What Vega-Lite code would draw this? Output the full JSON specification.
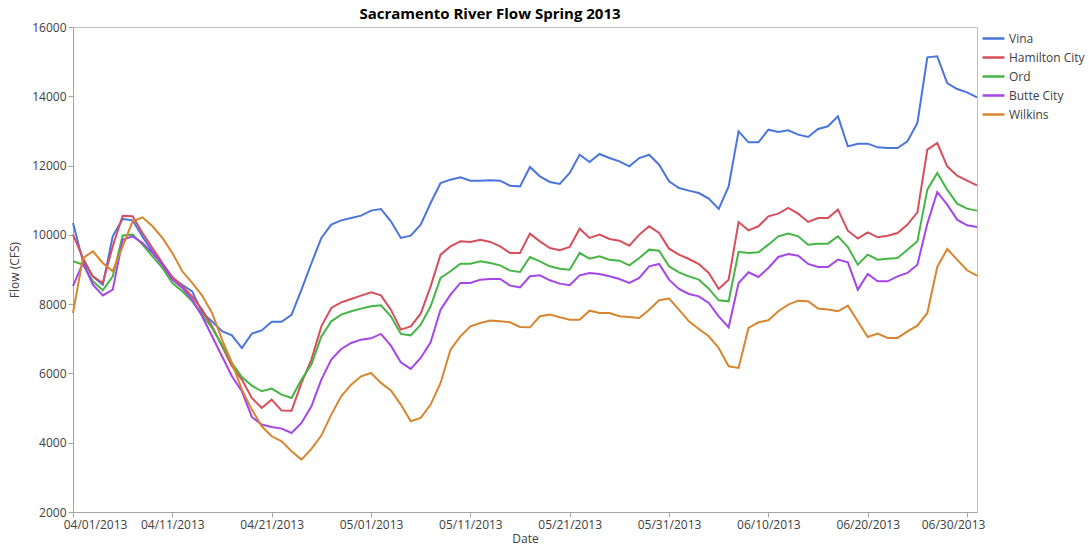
{
  "$schema": "https://vega.github.io/schema/vega-lite/v6.json",
  "autosize": {"type": "none"},
  "padding": {"left": 73, "top": 27, "right": 112, "bottom": 42},
  "width": 904,
  "height": 485,
  "background": "white",
  "title": {"text": "Sacramento River Flow Spring 2013", "anchor": "middle", "dx": -35, "dy": 7, "offset": 6, "font": "Open Sans", "fontSize": 15, "fontWeight": "bold", "color": "#000000"},
  "config": {
    "view": {"stroke": "#BFBFBF", "strokeWidth": 1},
    "font": "Open Sans"
  },
  "data": {"values": [
    {"date": "2013/04/01", "Vina": 10340, "Hamilton City": 10010, "Ord": 9240, "Butte City": 8520, "Wilkins": 7745},
    {"date": "2013/04/02", "Vina": 9240, "Hamilton City": 9330, "Ord": 9140, "Butte City": 9190, "Wilkins": 9330},
    {"date": "2013/04/03", "Vina": 8800, "Hamilton City": 8800, "Ord": 8660, "Butte City": 8560, "Wilkins": 9525},
    {"date": "2013/04/04", "Vina": 8560, "Hamilton City": 8610, "Ord": 8400, "Butte City": 8250, "Wilkins": 9190},
    {"date": "2013/04/05", "Vina": 9960, "Hamilton City": 9670, "Ord": 8800, "Butte City": 8420, "Wilkins": 8950},
    {"date": "2013/04/06", "Vina": 10460, "Hamilton City": 10550, "Ord": 9980, "Butte City": 9860, "Wilkins": 9670},
    {"date": "2013/04/07", "Vina": 10420, "Hamilton City": 10535, "Ord": 10006, "Butte City": 9958, "Wilkins": 10390},
    {"date": "2013/04/08", "Vina": 9950, "Hamilton City": 10054, "Ord": 9717, "Butte City": 9766, "Wilkins": 10506},
    {"date": "2013/04/09", "Vina": 9520, "Hamilton City": 9621, "Ord": 9381, "Butte City": 9477, "Wilkins": 10247},
    {"date": "2013/04/10", "Vina": 9140, "Hamilton City": 9188, "Ord": 9044, "Butte City": 9140, "Wilkins": 9910},
    {"date": "2013/04/11", "Vina": 8760, "Hamilton City": 8784, "Ord": 8611, "Butte City": 8707, "Wilkins": 9477},
    {"date": "2013/04/12", "Vina": 8560, "Hamilton City": 8515, "Ord": 8371, "Butte City": 8467, "Wilkins": 8948},
    {"date": "2013/04/13", "Vina": 8370, "Hamilton City": 8226, "Ord": 8082, "Butte City": 8130, "Wilkins": 8611},
    {"date": "2013/04/14", "Vina": 7760, "Hamilton City": 7842, "Ord": 7697, "Butte City": 7649, "Wilkins": 8246},
    {"date": "2013/04/15", "Vina": 7500, "Hamilton City": 7361, "Ord": 7313, "Butte City": 7072, "Wilkins": 7745},
    {"date": "2013/04/16", "Vina": 7220, "Hamilton City": 6783, "Ord": 6831, "Butte City": 6495, "Wilkins": 6976},
    {"date": "2013/04/17", "Vina": 7100, "Hamilton City": 6206, "Ord": 6302, "Butte City": 5918, "Wilkins": 6302},
    {"date": "2013/04/18", "Vina": 6730, "Hamilton City": 5821, "Ord": 5898, "Butte City": 5485, "Wilkins": 5533},
    {"date": "2013/04/19", "Vina": 7150, "Hamilton City": 5292, "Ord": 5648, "Butte City": 4744, "Wilkins": 4956},
    {"date": "2013/04/20", "Vina": 7240, "Hamilton City": 5004, "Ord": 5485, "Butte City": 4523, "Wilkins": 4475},
    {"date": "2013/04/21", "Vina": 7490, "Hamilton City": 5244, "Ord": 5562, "Butte City": 4455, "Wilkins": 4186},
    {"date": "2013/04/22", "Vina": 7490, "Hamilton City": 4927, "Ord": 5389, "Butte City": 4407, "Wilkins": 4042},
    {"date": "2013/04/23", "Vina": 7690, "Hamilton City": 4920, "Ord": 5290, "Butte City": 4282, "Wilkins": 3753},
    {"date": "2013/04/24", "Vina": 8420, "Hamilton City": 5725, "Ord": 5822, "Butte City": 4571, "Wilkins": 3513},
    {"date": "2013/04/25", "Vina": 9180, "Hamilton City": 6398, "Ord": 6254, "Butte City": 5050, "Wilkins": 3821},
    {"date": "2013/04/26", "Vina": 9910, "Hamilton City": 7359, "Ord": 7071, "Butte City": 5822, "Wilkins": 4206},
    {"date": "2013/04/27", "Vina": 10294, "Hamilton City": 7890, "Ord": 7504, "Butte City": 6398, "Wilkins": 4811},
    {"date": "2013/04/28", "Vina": 10419, "Hamilton City": 8052, "Ord": 7697, "Butte City": 6706, "Wilkins": 5339},
    {"date": "2013/04/29", "Vina": 10487, "Hamilton City": 8150, "Ord": 7793, "Butte City": 6880, "Wilkins": 5677},
    {"date": "2013/04/30", "Vina": 10554, "Hamilton City": 8245, "Ord": 7870, "Butte City": 6975, "Wilkins": 5917},
    {"date": "2013/05/01", "Vina": 10700, "Hamilton City": 8340, "Ord": 7937, "Butte City": 7014, "Wilkins": 6014},
    {"date": "2013/05/02", "Vina": 10747, "Hamilton City": 8254, "Ord": 7966, "Butte City": 7140, "Wilkins": 5726},
    {"date": "2013/05/03", "Vina": 10390, "Hamilton City": 7841, "Ord": 7648, "Butte City": 6802, "Wilkins": 5512},
    {"date": "2013/05/04", "Vina": 9910, "Hamilton City": 7264, "Ord": 7140, "Butte City": 6321, "Wilkins": 5100},
    {"date": "2013/05/05", "Vina": 9977, "Hamilton City": 7359, "Ord": 7100, "Butte City": 6130, "Wilkins": 4618},
    {"date": "2013/05/06", "Vina": 10294, "Hamilton City": 7725, "Ord": 7408, "Butte City": 6447, "Wilkins": 4716},
    {"date": "2013/05/07", "Vina": 10920, "Hamilton City": 8514, "Ord": 7937, "Butte City": 6898, "Wilkins": 5100},
    {"date": "2013/05/08", "Vina": 11497, "Hamilton City": 9428, "Ord": 8756, "Butte City": 7841, "Wilkins": 5726},
    {"date": "2013/05/09", "Vina": 11593, "Hamilton City": 9668, "Ord": 8948, "Butte City": 8274, "Wilkins": 6687},
    {"date": "2013/05/10", "Vina": 11660, "Hamilton City": 9812, "Ord": 9169, "Butte City": 8611, "Wilkins": 7071},
    {"date": "2013/05/11", "Vina": 11564, "Hamilton City": 9795, "Ord": 9169, "Butte City": 8611, "Wilkins": 7359},
    {"date": "2013/05/12", "Vina": 11564, "Hamilton City": 9861, "Ord": 9235, "Butte City": 8707, "Wilkins": 7457},
    {"date": "2013/05/13", "Vina": 11574, "Hamilton City": 9795, "Ord": 9188, "Butte City": 8726, "Wilkins": 7524},
    {"date": "2013/05/14", "Vina": 11564, "Hamilton City": 9668, "Ord": 9120, "Butte City": 8726, "Wilkins": 7504},
    {"date": "2013/05/15", "Vina": 11420, "Hamilton City": 9477, "Ord": 8967, "Butte City": 8534, "Wilkins": 7476},
    {"date": "2013/05/16", "Vina": 11400, "Hamilton City": 9477, "Ord": 8928, "Butte City": 8486, "Wilkins": 7341},
    {"date": "2013/05/17", "Vina": 11959, "Hamilton City": 10035, "Ord": 9361, "Butte City": 8803, "Wilkins": 7331},
    {"date": "2013/05/18", "Vina": 11689, "Hamilton City": 9813, "Ord": 9236, "Butte City": 8832, "Wilkins": 7649},
    {"date": "2013/05/19", "Vina": 11526, "Hamilton City": 9621, "Ord": 9092, "Butte City": 8688, "Wilkins": 7697},
    {"date": "2013/05/20", "Vina": 11468, "Hamilton City": 9554, "Ord": 9024, "Butte City": 8592, "Wilkins": 7620},
    {"date": "2013/05/21", "Vina": 11785, "Hamilton City": 9650, "Ord": 8996, "Butte City": 8544, "Wilkins": 7553},
    {"date": "2013/05/22", "Vina": 12314, "Hamilton City": 10179, "Ord": 9477, "Butte City": 8832, "Wilkins": 7553},
    {"date": "2013/05/23", "Vina": 12103, "Hamilton City": 9910, "Ord": 9313, "Butte City": 8899, "Wilkins": 7812},
    {"date": "2013/05/24", "Vina": 12334, "Hamilton City": 10006, "Ord": 9380, "Butte City": 8870, "Wilkins": 7745},
    {"date": "2013/05/25", "Vina": 12218, "Hamilton City": 9881, "Ord": 9284, "Butte City": 8803, "Wilkins": 7745},
    {"date": "2013/05/26", "Vina": 12122, "Hamilton City": 9833, "Ord": 9255, "Butte City": 8726, "Wilkins": 7649},
    {"date": "2013/05/27", "Vina": 11978, "Hamilton City": 9688, "Ord": 9121, "Butte City": 8611, "Wilkins": 7630},
    {"date": "2013/05/28", "Vina": 12218, "Hamilton City": 10006, "Ord": 9332, "Butte City": 8755, "Wilkins": 7601},
    {"date": "2013/05/29", "Vina": 12314, "Hamilton City": 10246, "Ord": 9573, "Butte City": 9092, "Wilkins": 7841},
    {"date": "2013/05/30", "Vina": 12026, "Hamilton City": 10054, "Ord": 9544, "Butte City": 9159, "Wilkins": 8111},
    {"date": "2013/05/31", "Vina": 11545, "Hamilton City": 9602, "Ord": 9092, "Butte City": 8707, "Wilkins": 8159},
    {"date": "2013/06/01", "Vina": 11353, "Hamilton City": 9429, "Ord": 8919, "Butte City": 8438, "Wilkins": 7841},
    {"date": "2013/06/02", "Vina": 11276, "Hamilton City": 9303, "Ord": 8803, "Butte City": 8293, "Wilkins": 7505},
    {"date": "2013/06/03", "Vina": 11208, "Hamilton City": 9159, "Ord": 8707, "Butte City": 8226, "Wilkins": 7283},
    {"date": "2013/06/04", "Vina": 11045, "Hamilton City": 8899, "Ord": 8447, "Butte City": 8034, "Wilkins": 7072},
    {"date": "2013/06/05", "Vina": 10746, "Hamilton City": 8438, "Ord": 8111, "Butte City": 7649, "Wilkins": 6735},
    {"date": "2013/06/06", "Vina": 11400, "Hamilton City": 8707, "Ord": 8082, "Butte City": 7331, "Wilkins": 6206},
    {"date": "2013/06/07", "Vina": 12988, "Hamilton City": 10370, "Ord": 9510, "Butte City": 8611, "Wilkins": 6160},
    {"date": "2013/06/08", "Vina": 12671, "Hamilton City": 10131, "Ord": 9477, "Butte City": 8919, "Wilkins": 7313},
    {"date": "2013/06/09", "Vina": 12671, "Hamilton City": 10247, "Ord": 9496, "Butte City": 8784, "Wilkins": 7476},
    {"date": "2013/06/10", "Vina": 13036, "Hamilton City": 10535, "Ord": 9717, "Butte City": 9044, "Wilkins": 7534},
    {"date": "2013/06/11", "Vina": 12969, "Hamilton City": 10612, "Ord": 9958, "Butte City": 9362, "Wilkins": 7794},
    {"date": "2013/06/12", "Vina": 13017, "Hamilton City": 10776, "Ord": 10035, "Butte City": 9448, "Wilkins": 7986},
    {"date": "2013/06/13", "Vina": 12892, "Hamilton City": 10612, "Ord": 9958, "Butte City": 9400, "Wilkins": 8101},
    {"date": "2013/06/14", "Vina": 12825, "Hamilton City": 10372, "Ord": 9717, "Butte City": 9160, "Wilkins": 8082},
    {"date": "2013/06/15", "Vina": 13056, "Hamilton City": 10487, "Ord": 9746, "Butte City": 9073, "Wilkins": 7871},
    {"date": "2013/06/16", "Vina": 13133, "Hamilton City": 10487, "Ord": 9746, "Butte City": 9073, "Wilkins": 7842},
    {"date": "2013/06/17", "Vina": 13421, "Hamilton City": 10728, "Ord": 9958, "Butte City": 9285, "Wilkins": 7794},
    {"date": "2013/06/18", "Vina": 12555, "Hamilton City": 10121, "Ord": 9650, "Butte City": 9208, "Wilkins": 7957},
    {"date": "2013/06/19", "Vina": 12632, "Hamilton City": 9891, "Ord": 9140, "Butte City": 8419, "Wilkins": 7505},
    {"date": "2013/06/20", "Vina": 12632, "Hamilton City": 10073, "Ord": 9429, "Butte City": 8871, "Wilkins": 7053},
    {"date": "2013/06/21", "Vina": 12527, "Hamilton City": 9929, "Ord": 9285, "Butte City": 8659, "Wilkins": 7149},
    {"date": "2013/06/22", "Vina": 12507, "Hamilton City": 9977, "Ord": 9313, "Butte City": 8659, "Wilkins": 7024},
    {"date": "2013/06/23", "Vina": 12507, "Hamilton City": 10054, "Ord": 9333, "Butte City": 8803, "Wilkins": 7024},
    {"date": "2013/06/24", "Vina": 12700, "Hamilton City": 10295, "Ord": 9573, "Butte City": 8900, "Wilkins": 7216},
    {"date": "2013/06/25", "Vina": 13229, "Hamilton City": 10651, "Ord": 9813, "Butte City": 9140, "Wilkins": 7380},
    {"date": "2013/06/26", "Vina": 15124, "Hamilton City": 12459, "Ord": 11305, "Butte City": 10324, "Wilkins": 7746},
    {"date": "2013/06/27", "Vina": 15153, "Hamilton City": 12652, "Ord": 11786, "Butte City": 11237, "Wilkins": 9073},
    {"date": "2013/06/28", "Vina": 14383, "Hamilton City": 11978, "Ord": 11305, "Butte City": 10872, "Wilkins": 9592},
    {"date": "2013/06/29", "Vina": 14210, "Hamilton City": 11709, "Ord": 10901, "Butte City": 10439, "Wilkins": 9285},
    {"date": "2013/06/30", "Vina": 14114, "Hamilton City": 11564, "Ord": 10756, "Butte City": 10275, "Wilkins": 8977},
    {"date": "2013/07/01", "Vina": 13970, "Hamilton City": 11430, "Ord": 10699, "Butte City": 10227, "Wilkins": 8823}
  ]},
  "transform": [
    {"fold": ["Vina", "Hamilton City", "Ord", "Butte City", "Wilkins"], "as": ["site", "flow"]}
  ],
  "mark": {"type": "line", "strokeWidth": 2, "interpolate": "linear"},
  "encoding": {
    "x": {
      "field": "date", "type": "temporal", "title": "Date",
      "scale": {"domain": [{"year": 2013, "month": 4, "date": 1}, {"year": 2013, "month": 7, "date": 1}]},
      "axis": {
        "values": [
          {"year": 2013, "month": 4, "date": 1}, {"year": 2013, "month": 4, "date": 11}, {"year": 2013, "month": 4, "date": 21},
          {"year": 2013, "month": 5, "date": 1}, {"year": 2013, "month": 5, "date": 11}, {"year": 2013, "month": 5, "date": 21},
          {"year": 2013, "month": 5, "date": 31}, {"year": 2013, "month": 6, "date": 10}, {"year": 2013, "month": 6, "date": 20},
          {"year": 2013, "month": 6, "date": 30}
        ],
        "format": "%m/%d/%Y", "grid": false, "labelFlush": false,
        "labelOffset": {"expr": "datum.value <= time(datetime(2013, 3, 2)) ? 22 : (datum.value >= time(datetime(2013, 5, 29)) ? -14 : 0)"},
        "labelFont": "Open Sans", "labelFontSize": 12, "labelColor": "#404040", "labelPadding": 2,
        "domainColor": "#A6A6A6", "tickColor": "#A6A6A6", "tickSize": 5,
        "titleFont": "Open Sans", "titleFontSize": 12, "titleFontWeight": "normal", "titleColor": "#404040", "titlePadding": 3
      }
    },
    "y": {
      "field": "flow", "type": "quantitative", "title": "Flow (CFS)",
      "scale": {"domain": [2000, 16000], "nice": false, "zero": false},
      "axis": {
        "values": [2000, 4000, 6000, 8000, 10000, 12000, 14000, 16000],
        "format": "d", "grid": false,
        "labelFont": "Open Sans", "labelFontSize": 12, "labelColor": "#404040", "labelPadding": 2,
        "domainColor": "#A6A6A6", "tickColor": "#A6A6A6", "tickSize": 5,
        "titleFont": "Open Sans", "titleFontSize": 12, "titleFontWeight": "normal", "titleColor": "#404040", "titlePadding": 10
      }
    },
    "color": {
      "field": "site", "type": "nominal",
      "scale": {
        "domain": ["Vina", "Hamilton City", "Ord", "Butte City", "Wilkins"],
        "range": ["#4A75DD", "#D64F5B", "#45B545", "#A546E8", "#D8852F"]
      },
      "legend": {
        "title": null, "orient": "none", "legendX": 908, "legendY": -1,
        "symbolType": "stroke", "symbolSize": 480, "symbolStrokeWidth": 2.5,
        "labelFont": "Open Sans", "labelFontSize": 12, "labelColor": "#404040",
        "rowPadding": -2, "labelOffset": 3
      }
    }
  }
}
